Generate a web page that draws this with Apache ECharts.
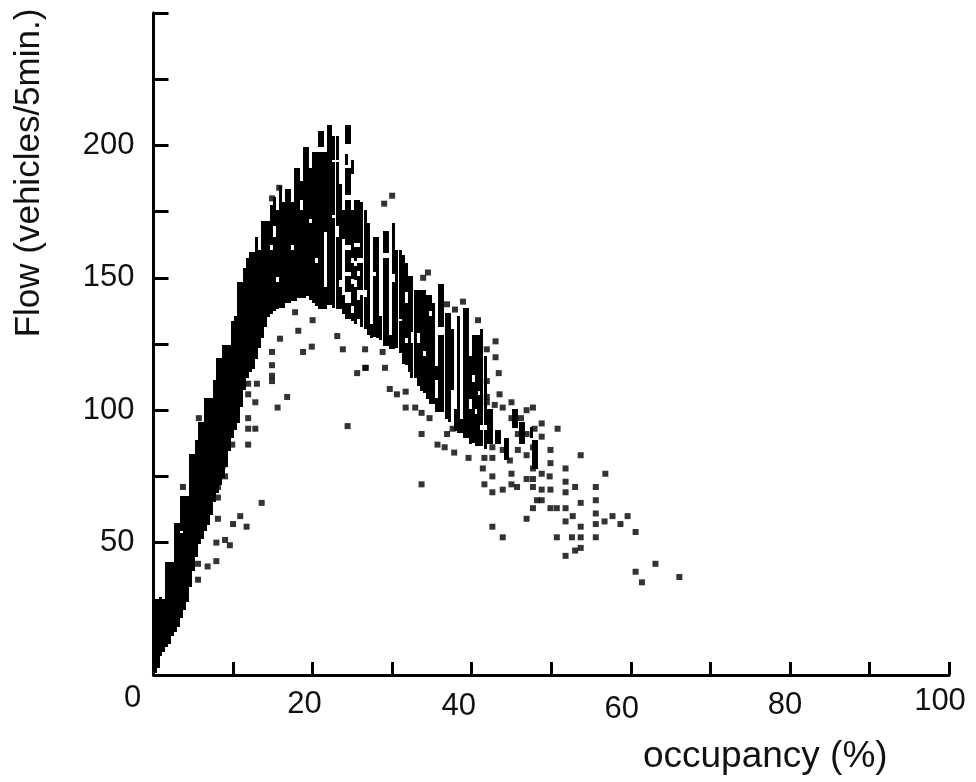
<!DOCTYPE html>
<html><head><meta charset="utf-8">
<style>html,body{margin:0;padding:0;background:#fff}#c{width:976px;height:782px}</style>
<script src="https://cdn.jsdelivr.net/npm/echarts@6/dist/echarts.min.js"></script></head>
<body><div id="c"></div>
<script>
// [occupancy, lowest flow, highest flow] : filled vertical runs of observations
const risingRuns = [
[0,1,28],[.38,3,28],[.75,8,29],[1.13,9,28],[1.5,11,42],[1.88,12,42],[2.25,15,42],[2.63,17,57],[3,19,57],
[3.38,22,53],[3.38,55,67],[3.75,25,67],[4.13,28,67],[4.5,34,83],[4.88,40,83],[5.25,45,88],[5.63,50,95],[6,52,95],
[6.38,55,104],[6.75,57,104],[7.13,61,104],[7.5,66,111],[7.88,69,119],[8.25,72,119],[8.63,75,124],[9,79,124],
[9.38,85,124],[9.75,90,133],[10.13,93,135],[10.5,96,148],[10.88,102,148],[11.25,108,153],[11.63,113,157],
[12,115,159],[12.38,116,159],[12.75,120,165],[13.13,124,160],[13.5,128,171],[13.88,132,171],[14.25,136,171],
[14.63,137,160],[14.63,163,177],[15,138,165],[15,170,180],[15.38,139,148],[15.38,151,175],[15.75,139,184],
[16.13,139,178],[16.5,141,183],[16.9,141,183]
];
const peakRuns = [
[17.3,142,160],[17.3,163,178],[17.6,142,191],[18,143,191],[18.4,143,175],[18.4,180,186],[18.8,143,199],[19.2,144,199],
[19.6,142,170],[19.6,173,191],[19.9,141,197],[20.3,140,155],[20.3,158,197],[20.7,139,197],[20.7,200,205],[21,139,197],[21,200,205],
[21.4,139,146],[21.4,168,197],[21.8,140,207],[22.1,140,207],[22.5,139,172],[22.5,174,193],[22.5,195,203],
[22.9,139,165],[22.9,170,193],[22.9,195,203],[23.3,139,146],[23.3,150,185],[23.7,137,143],[23.7,165,175],
[24.1,135,140],[24.1,145,150],[24.1,153,160],[24.1,163,179],[24.1,182,191],[24.1,193,196],[24.1,201,207],
[24.5,135,140],[24.5,145,150],[24.5,153,160],[24.5,163,179],[24.5,182,191],[24.5,201,207],
[24.8,134,136],[24.8,140,147],[24.8,150,155],[24.8,158,175],[24.8,190,194],
[25.2,133,146],[25.2,150,154],[25.2,157,161],[25.2,164,179],
[25.6,135,141],[25.6,146,150],[25.6,153,155],[25.6,158,161],[25.6,164,179],
[26,132,143],[26,146,155],[26,158,178],[26.4,131,142],[26.4,146,175],[26.8,129,170],[27.2,128,132],
[27.6,128,150],[27.6,153,165],[28,128,165],[28.4,127,135],[28.8,125,157],[28.8,160,167],[29.2,125,157],[29.2,160,167],
[29.6,124,128],[30,124,148],[30,152,170],[30.4,124,160]
];
const fallingRuns = [
[30.8,122,133],[30.8,135,160],[31.2,118,158],[31.6,118,125],[31.6,128,140],[31.6,145,155],[32,115,150],
[32.3,113,125],[32.3,130,150],[32.7,113,145],[33.1,110,125],[33.1,130,145],[33.5,108,145],[33.9,107,120],[33.9,123,145],
[34.2,105,143],[34.6,103,135],[34.6,138,143],[35,103,140],[35.4,100,104],[35.4,112,116],
[35.8,100,128],[35.8,132,147],[36.2,100,128],[36.2,132,147],[36.6,97,136],[37,96,136],[37.4,108,130],[37.8,93,100],
[38.1,92,135],[38.5,92,96],[38.9,90,138],[39.3,90,138],[39.6,88,100],[39.6,105,120],[40,88,110],[40,114,128],
[40.4,87,98],[40.4,101,128],[40.7,87,105],[40.7,108,128],[41.1,87,92],[41.1,95,130],[41.5,86,92],[41.5,95,120],
[41.9,88,100],[42.3,88,100],[42.9,88,92],[43.3,88,92],[44,82,89],[44.3,82,89],
[45.1,94,100],[45.5,94,100],[46,88,95],[46.3,88,95],[47.3,90,93],[47.6,78,88],[47.9,78,88]
];
// [occupancy, flow] : isolated observations
const lowerOutliers = [
[14.9,117],[14.9,113],[14.9,122],[15.9,127],[18.2,130],[20,134],[18.8,122],[19.9,124],[23.8,123],[26.6,123],
[23.1,128],[26.6,116],[25.6,114],[29.1,116],[28.8,122],[17.8,137],[14.9,111],[16.8,105],[15.6,101],[12.8,103],
[11.9,97],[11.9,106],[13,110],[11.9,110],[12.8,93],[11.9,93],[11.9,87],[9.9,87],[5.7,97],[3.7,71],[13.6,65],
[8.1,59],[10.9,60],[11.7,56],[10,57],[7.9,50],[9,51],[9.6,49],[7.9,43],[6.8,41],[5.6,42],[5.6,36],[9,75],
[8.1,67],[8.1,71],[8.7,79],[24.4,94]
];
const upperOutliers = [
[30,181],[29,178],[15.8,184],[14.9,180],[34.5,152],[33.9,150],[38.9,141],[40.8,134],[37.9,138],[36.9,140],
[43,126],[43,120],[41.9,123],[43.4,114],[41.9,111],[43.5,106],[41.9,105]
];
const midOutliers = [
[26.7,116],[29.7,108],[30.6,106],[31.7,107],[31.7,101],[32.9,101],[33.7,99],[34.7,97],[33.7,91],[36.9,91],
[37.6,93],[35.7,87],[36.6,86],[37.8,84],[39.6,82],[33.7,72]
];
const tailOutliers = [
[50.8,93],[48.8,95],[47.7,101],[46.9,100],[46.2,97],[45,103],[43.9,101],[42.9,102],[41.9,103],[48.8,90],[47.9,93],
[53.7,83],[49.9,85],[49.9,80],[47.7,86],[46.9,83],[45.8,91],[46.9,91],[45.8,85],[45,97],[44.8,81],[43.9,85],
[42.6,86],[42.6,82],[41.6,82],[41.4,78],[42.6,75],[41.6,72],[42.6,69],[43.9,70],[45,76],[45.7,71],[45,72],
[46.9,74],[47.7,78],[47.7,74],[48.8,76],[49.8,75],[47.7,71],[48.8,70],[49.9,70],[51.8,78],[51.8,73],[53,71],
[51.8,69],[56.8,76],[55.6,71],[53.7,65],[55.6,66],[51.8,63],[50.7,63],[49.9,63],[47.7,63],[48.2,66],[48.8,66],
[46.9,59],[52.7,60],[51.8,58],[53.7,56],[55.6,61],[55.6,57],[56.7,58],[57.7,60],[58.7,57],[59.6,60],[60.6,54],
[42.6,56],[43.9,52],[50.7,52],[52.6,52],[53.7,52],[55.6,52],[53,47],[53.7,48],[51.8,45],[63.1,42],[60.6,39],
[61.4,35],[66.1,37]
];
const yTickLabels = [50, 100, 150, 200];
const xTickLabels = [0, 20, 40, 60, 80, 100];

const font = '"Liberation Sans", Arial, sans-serif';
const xRich = {
  l0:  {padding:[0,42,0,0], lineHeight:30, fontSize:31, fontFamily:font, color:'#111'},
  l20: {padding:[12,16,0,0], lineHeight:30, fontSize:31, fontFamily:font, color:'#111'},
  l40: {padding:[16,26,0,0], lineHeight:30, fontSize:31, fontFamily:font, color:'#111'},
  l60: {padding:[22,18,0,0], lineHeight:30, fontSize:31, fontFamily:font, color:'#111'},
  l80: {padding:[14,10,0,0], lineHeight:30, fontSize:31, fontFamily:font, color:'#111'},
  l100:{padding:[6,18,0,0], lineHeight:30, fontSize:31, fontFamily:font, color:'#111'}
};
const axisLine = {show:true, lineStyle:{color:'#000', width:3}};
const chart = echarts.init(document.getElementById('c'), null, {renderer:'canvas'});
chart.setOption({
  animation:false,
  backgroundColor:'#fff',
  grid:{left:153.5, right:27, top:13, bottom:107, containLabel:false, outerBoundsMode:'none'},
  xAxis:{type:'value', min:0, max:100, interval:10,
    axisLine:axisLine, splitLine:{show:false},
    axisTick:{inside:true, length:13, lineStyle:{color:'#000', width:3}},
    axisLabel:{show:true, margin:8, color:'#111', fontFamily:font, fontSize:31, showMinLabel:true, showMaxLabel:true,
      hideOverlap:false, rich:xRich,
      formatter:v => xTickLabels.includes(v) ? '{l'+v+'|'+v+'}' : ''},
    name:'occupancy (%)', nameLocation:'middle', nameGap:63,
    nameTextStyle:{color:'#111', fontFamily:font, fontSize:37, padding:[0,0,0,428], verticalAlign:'top'}
  },
  yAxis:{type:'value', min:0, max:250, interval:25,
    axisLine:axisLine, splitLine:{show:false},
    axisTick:{inside:true, length:15, lineStyle:{color:'#000', width:3}},
    axisLabel:{show:true, margin:19, color:'#111', fontFamily:font, fontSize:31,
      formatter:v => yTickLabels.includes(v) ? String(v) : ''},
    name:'Flow (vehicles/5min.)', nameLocation:'middle', nameRotate:90, nameGap:107,
    nameTextStyle:{color:'#111', fontFamily:font, fontSize:35, padding:[0,0,0,342]}
  },
  series:[
    {type:'custom', name:'runs', clip:false, silent:true,
     data:[...risingRuns, ...peakRuns, ...fallingRuns],
     encode:{x:0, y:[1,2]},
     renderItem:(params, api) => {
       const a = api.coord([api.value(0), api.value(1)]);
       const b = api.coord([api.value(0), api.value(2)]);
       const w = api.size([0.376, 0])[0];
       return {type:'rect', shape:{x:Math.round(a[0]), y:Math.round(b[1]-1.5), width:Math.round(w), height:Math.round(a[1]-b[1]+3)},
               style:{fill:'#000'}};
     }},
    {type:'scatter', name:'outliers', symbol:'rect', symbolSize:6, silent:true, clip:false,
     itemStyle:{color:'#000'}, data:[...lowerOutliers, ...upperOutliers, ...midOutliers, ...tailOutliers]}
  ]
});
</script></body></html>
